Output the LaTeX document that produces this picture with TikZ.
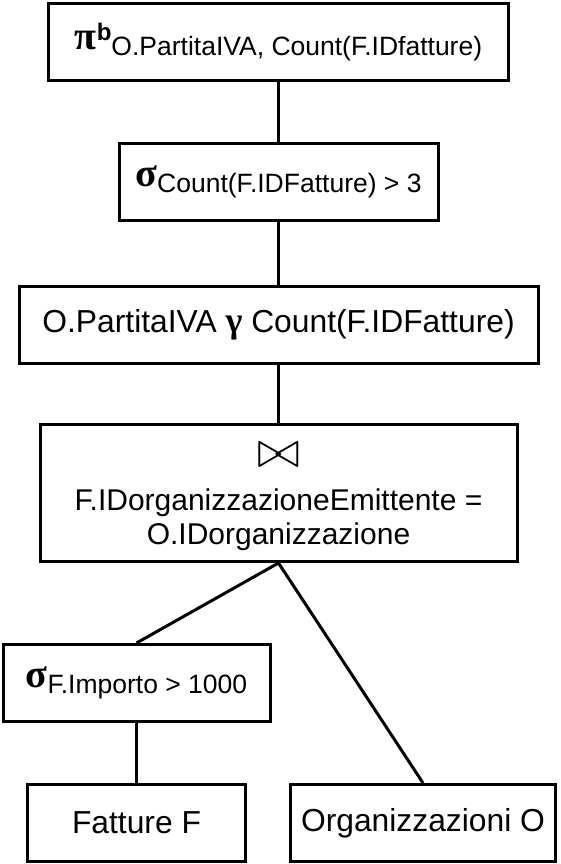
\documentclass[tikz,border=0pt]{standalone}
\usepackage{fontspec}
\usepackage{graphicx}
\setmainfont{Liberation Sans}
\newfontfamily\opfont{Liberation Serif}
\usetikzlibrary{positioning}
\tikzstyle{relop} = [rectangle, draw=black, line width=3pt, fill=white, inner sep=0pt, minimum height=77pt, text centered, font=\fontsize{31.8}{34}\selectfont]
\tikzstyle{treeline} = [line width=3pt]
\newcommand{\opsym}[1]{{\opfont\bfseries\fontsize{40}{40}\selectfont #1}}
\newcommand{\opsub}[1]{\raisebox{-6pt}{\fontsize{26.5}{26.5}\selectfont #1}}
\newcommand{\opsup}[1]{\raisebox{9pt}{\fontsize{24}{24}\selectfont\bfseries #1}}

\begin{document}
\begin{tikzpicture}[node distance=140pt]
 \useasboundingbox (0,0) rectangle (560pt,-864pt);
 \node (proj) [relop, minimum width=460pt] at (278.5pt,-42pt) {\opsym{π}\opsup{b}\opsub{O.PartitaIVA, Count(F.IDfatture)}};
 \node (selcount) [relop, below of=proj, minimum width=319pt] {\opsym{σ}\opsub{Count(F.IDFatture) > 3}};
 \node (group) [relop, below of=selcount, node distance=143pt, minimum width=519pt] {O.PartitaIVA {\opfont\bfseries\fontsize{36}{36}\selectfont γ} Count(F.IDFatture)};
 \node (join) [relop, below of=group, node distance=168pt, minimum width=477pt, minimum height=137pt, align=center, font=\fontsize{30}{34}\selectfont] {\rule{0pt}{32pt}\scalebox{2.1}{$\bowtie$}\\[9pt]F.IDorganizzazioneEmittente =\\O.IDorganizzazione};
 \node (selimp) [relop, below of=join, node distance=190pt, xshift=-142pt, minimum width=267pt] {\opsym{σ}\opsub{F.Importo > 1000}};
 \node (fatture) [relop, below of=selimp, minimum width=218pt] {Fatture F};
 \node (org) [relop, right of=fatture, node distance=286.5pt, minimum width=265pt] {Organizzazioni O};

 \draw [treeline] (proj) -- (selcount);
 \draw [treeline] (selcount) -- (group);
 \draw [treeline] (group) -- (join);
 \draw [treeline] (join.south) -- (selimp.north);
 \draw [treeline] (join.south) -- (org.north);
 \draw [treeline] (selimp) -- (fatture);

\end{tikzpicture}
\end{document}
